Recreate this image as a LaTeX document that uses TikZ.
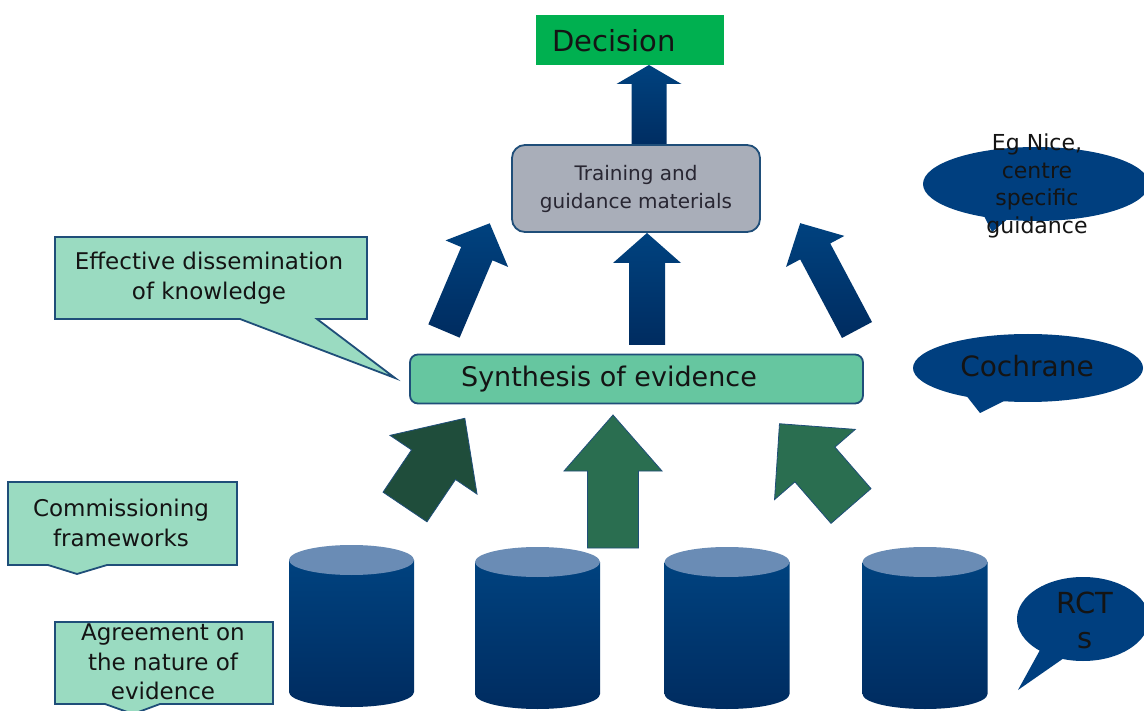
\documentclass[tikz,border=0pt]{standalone}
\usepackage{fontspec}
\setmainfont{DejaVu Sans}
\definecolor{dkblue}{HTML}{1F4E79}
\definecolor{navy}{HTML}{00427F}
\definecolor{navyd}{HTML}{002C60}
\definecolor{calblue}{HTML}{003F7F}
\definecolor{lightaq}{HTML}{9ADBC1}
\definecolor{synfill}{HTML}{66C6A0}
\definecolor{trfill}{HTML}{A9AEB9}
\definecolor{decgreen}{HTML}{00B050}
\definecolor{garrow}{HTML}{2A6E50}
\definecolor{garrowd}{HTML}{1F4D3B}
\definecolor{cyltop}{HTML}{6A8CB5}
\definecolor{txt}{HTML}{141414}
\newcommand\blockarrow[8]{%
  \begin{scope}[shift={(#2,#3)},rotate=#4]
    \path[#1] (-#6/2,0) -- (-#6/2,-#5+#8) -- (-#7/2,-#5+#8) -- (0,-#5)
      -- (#7/2,-#5+#8) -- (#6/2,-#5+#8) -- (#6/2,0) -- cycle;
  \end{scope}}
\newcommand\cylinder[3]{%
  \coordinate (#1) at (#2,#3);
  \shade[top color=navy, bottom color=navyd] (#2-62.5,#3) -- (#2-62.5,#3+132)
    .. controls (#2-62.5,#3+140.3) and (#2-34.5,#3+147) .. (#2,#3+147)
    .. controls (#2+34.5,#3+147) and (#2+62.5,#3+140.3) .. (#2+62.5,#3+132)
    -- (#2+62.5,#3) -- cycle;
  \fill[cyltop] (#2,#3) ellipse [x radius=62.5, y radius=15];}
\tikzset{
  callout/.style={fill=lightaq, draw=dkblue, line width=1.8pt, line join=miter},
  caltext/.style={text=txt, align=center, font=\fontsize{23}{29.5}\selectfont},
  bluearrow/.style={top color=navy, bottom color=navyd},
  greenarrow/.style={fill=garrow, draw=dkblue, line width=0.8pt},
  greenarrowd/.style={fill=garrowd, draw=dkblue, line width=0.8pt},
  boxline/.style={draw=dkblue, line width=1.8pt},
  ovaltext/.style={text=txt, align=center}
}
\begin{document}
\begin{tikzpicture}[x=1pt,y=-1pt]
\useasboundingbox (0,0) rectangle (1144,711);
\fill[white] (0,0) rectangle (1144,711);

% light-green callouts
\path[callout] (55,237) -- (367,237) -- (367,319) -- (317,319) -- (395,378) -- (240,319) -- (55,319) -- cycle;
\path[callout] (8,482) -- (237,482) -- (237,565) -- (107,565) -- (77,574) -- (48,565) -- (8,565) -- cycle;
\path[callout] (55,622) -- (273,622) -- (273,704) -- (160,704) -- (133,714) -- (105,704) -- (55,704) -- cycle;
\node[caltext] (eff) at (209,278) {Effective dissemination\\of knowledge};
\node[caltext] (comm) at (121,523) {Commissioning\\frameworks};
\node[caltext] (agree) at (163,662) {Agreement on\\the nature of\\evidence};

% blue block arrows
\blockarrow{bluearrow}{649}{150}{0}{85}{35}{65}{19}
\blockarrow{bluearrow}{444}{331}{-23}{117}{34}{68}{33}
\blockarrow{bluearrow}{647}{345}{0}{112}{36}{68}{30}
\blockarrow{bluearrow}{857}{330}{28}{121}{34}{66}{32}

% green block arrows
\blockarrow{greenarrowd}{405}{507}{-34}{107}{53}{105}{56}
\blockarrow{greenarrow}{613}{548}{0}{133}{51}{98}{56}
\blockarrow{greenarrow}{851}{506}{41}{109}{53}{107}{54}

% boxes
\node[fill=decgreen, minimum width=188, minimum height=50, inner sep=0] (decbox) at (630,40) {};
\node[anchor=base west, text=txt, font=\fontsize{29}{34}\selectfont] (dec) at (549,52) {Decision};

\node[boxline, fill=trfill, rounded corners=13, minimum width=248, minimum height=87, inner sep=0] (train) at (636,188.5) {};
\node[text={rgb,255:red,40;green,38;blue,50}, align=center, font=\fontsize{20}{27.5}\selectfont] (traintxt) at (636,189) {Training and\\guidance materials};

\node[boxline, fill=synfill, rounded corners=8, minimum width=453, minimum height=49, inner sep=0] (syn) at (636.5,379) {};
\node[anchor=base, text=txt, font=\fontsize{27}{32}\selectfont] (syntxt) at (609,387) {Synthesis of evidence};

% cylinders
\cylinder{c1}{351.5}{560}
\cylinder{c2}{537.5}{562}
\cylinder{c3}{727}{562}
\cylinder{c4}{925}{562}

% dark blue oval callouts
\fill[calblue] (1036,184) ellipse [x radius=113, y radius=37];
\fill[calblue] (982,212) -- (992,232) -- (1010,217) -- cycle;
\node[ovaltext, font=\fontsize{22}{27.5}\selectfont] (egnice) at (1037,186) {Eg Nice,\\centre\\specific\\guidance};

\fill[calblue] (1028,368) ellipse [x radius=115, y radius=34];
\fill[calblue] (965,394) -- (980,413) -- (1008,399) -- cycle;
\node[anchor=base, text=txt, font=\fontsize{28}{33}\selectfont] (coch) at (1027,377) {Cochrane};

\fill[calblue] (1083,619) ellipse [x radius=66, y radius=42];
\fill[calblue] (1040,650) -- (1018,690) -- (1064,658) -- cycle;
\node[ovaltext, font=\fontsize{29}{35}\selectfont] (rct) at (1085,620) {RCT\\s};
\end{tikzpicture}
\end{document}
